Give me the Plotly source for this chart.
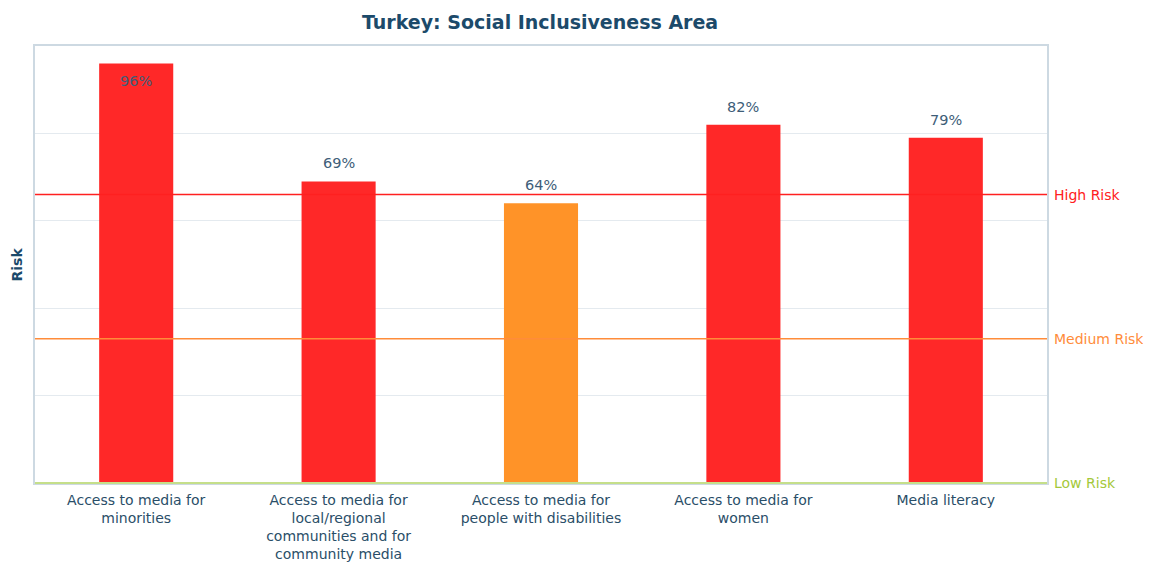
import plotly.graph_objects as go

categories = [
    "Access to media for<br>minorities",
    "Access to media for<br>local/regional<br>communities and for<br>community media",
    "Access to media for<br>people with disabilities",
    "Access to media for<br>women",
    "Media literacy",
]
values = [96, 69, 64, 82, 79]
value_labels = ["96%", "69%", "64%", "82%", "79%"]
bar_colors = ["#ff2828", "#ff2828", "#ff9328", "#ff2828", "#ff2828"]
label_inside = [True, False, False, False, False]

risk_levels = [66, 33, 0]
risk_names = ["High Risk", "Medium Risk", "Low Risk"]
risk_colors = ["#ff2020", "#ff8c3a", "#a4c83a"]

FONT = "DejaVu Sans"
DARK = "#1c4a6a"
LABEL = "#3e5d78"

fig = go.Figure()
fig.add_trace(go.Bar(
    x=categories, y=values, marker=dict(color=bar_colors, line=dict(width=0)),
    width=0.366, hoverinfo="skip",
))

# reference lines (medium / high risk)
for lvl, col in zip(risk_levels[:2], risk_colors[:2]):
    fig.add_shape(type="line", xref="paper", x0=0, x1=1, yref="y", y0=lvl, y1=lvl,
                  line=dict(color=col, width=1.5), layer="above")

# right-side risk labels
for lvl, name, col in zip(risk_levels, risk_names, risk_colors):
    fig.add_annotation(xref="paper", x=1, xanchor="left", xshift=5, yref="y", y=lvl,
                       yanchor="middle", text=name, showarrow=False,
                       font=dict(family=FONT, size=14, color=col))

# value labels
for cat, v, lab, inside in zip(categories, values, value_labels, label_inside):
    shift = -18 if inside else 18
    fig.add_annotation(x=cat, y=v, text=lab, showarrow=False, yanchor="middle",
                       yshift=shift, font=dict(family=FONT, size=14.5, color=LABEL))

# y axis title
fig.add_annotation(xref="paper", x=0, xanchor="center", xshift=-19, yref="paper", y=0.5,
                   text="<b>Risk</b>", textangle=-90, showarrow=False,
                   font=dict(family=FONT, size=14, color=DARK))

# bottom axis line (green)
fig.add_shape(type="line", xref="paper", yref="paper", x0=0, x1=1, y0=0, y1=0,
              line=dict(color="#c5df8a", width=2), layer="above")

# page body has an 8px margin; size the figure to fit the 1151x563 window
fig.update_layout(
    width=1143, height=555,
    margin=dict(l=27, r=104, t=38, b=80),
    paper_bgcolor="white", plot_bgcolor="white",
    showlegend=False,
    title=dict(text="<b>Turkey: Social Inclusiveness Area</b>", x=0.4655, xanchor="center",
               y=0.975, yanchor="middle",
               font=dict(family=FONT, size=19, color=DARK)),
    font=dict(family=FONT, color=DARK),
)
fig.update_xaxes(
    showgrid=False, tickfont=dict(family=FONT, size=14, color="#2a4e68"),
    showline=True, linecolor="#cdd9e2", linewidth=1.5, mirror=True, ticks="outside",
    ticklen=3, tickcolor="rgba(0,0,0,0)",
    automargin=False,
)
fig.update_yaxes(
    range=[0, 100], dtick=20, showticklabels=False, gridcolor="#e4eaef", gridwidth=1,
    showline=True, linecolor="#cdd9e2", linewidth=1.5, mirror=True, zeroline=False,
    automargin=False,
)

fig.write_html("out.html")
